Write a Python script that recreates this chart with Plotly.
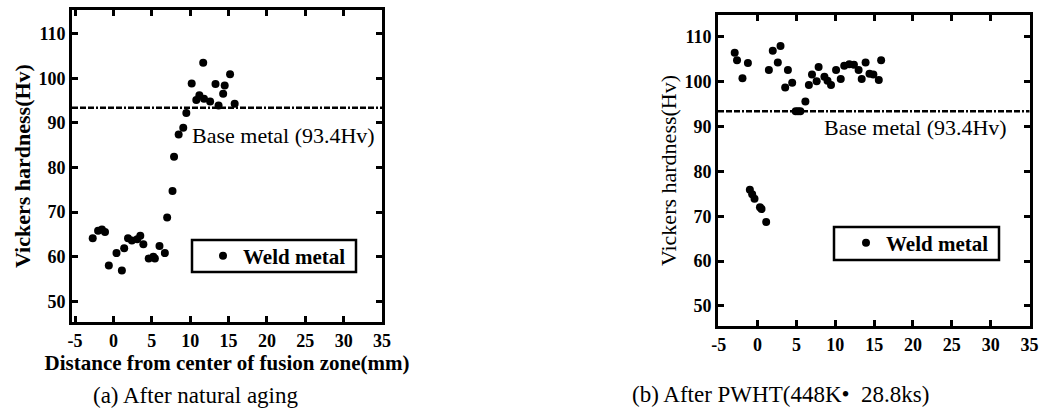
import plotly.graph_objects as go

# ---- data ----
dist_a = [-2.7, -2.0, -1.5, -1.1, -0.6, 0.4, 1.1, 1.4, 1.9, 2.4, 3.1, 3.5, 3.9, 4.6, 5.2, 5.4,
          6.0, 6.7, 7.0, 7.7, 7.9, 8.5, 9.1, 9.5, 10.2, 10.8, 11.2, 11.7, 11.8, 12.6, 13.3,
          13.7, 14.3, 14.5, 15.2, 15.8]
hv_a = [64.1, 65.8, 66.1, 65.5, 58.0, 60.8, 56.9, 61.9, 64.1, 63.6, 63.9, 64.7, 62.8, 59.6, 60.0, 59.6,
        62.4, 60.8, 68.8, 74.7, 82.4, 87.4, 88.9, 92.2, 98.8, 95.1, 96.2, 103.5, 95.4, 94.8, 98.7,
        93.9, 96.5, 98.4, 100.9, 94.3]

dist_b = [-2.95, -2.65, -1.95, -1.25, -1.0, -0.7, -0.4, 0.3, 0.5, 1.1, 1.45, 1.95, 2.6, 2.95,
          3.55, 3.9, 4.45, 4.9, 5.2, 5.5, 6.15, 6.6, 7.0, 7.6, 7.85, 8.6, 9.0, 9.45, 10.1, 10.7,
          11.15, 11.8, 12.4, 13.0, 13.4, 13.9, 14.4, 14.9, 15.6, 15.9]
hv_b = [106.5, 104.8, 100.8, 104.2, 75.9, 74.9, 73.9, 72.0, 71.6, 68.7, 102.6, 106.9, 104.3, 108.0,
        98.7, 102.6, 99.8, 93.4, 93.4, 93.4, 95.6, 99.3, 101.6, 100.1, 103.3, 101.1, 100.2, 99.3, 102.6, 100.6,
        103.6, 103.9, 103.8, 102.6, 100.6, 104.3, 101.8, 101.6, 100.4, 104.8]

base_metal = 93.4
x_ticks = [-5, 0, 5, 10, 15, 20, 25, 30, 35]
x_tick_labels = ["-5", "0", "5", "10", "15", "20", "25", "30", "35"]
y_ticks = [50, 60, 70, 80, 90, 100, 110]
y_tick_labels = ["50", "60", "70", "80", "90", "100", "110"]
series_name = "Weld metal"
y_title = "Vickers hardness(Hv)"
x_title = "Distance from center of fusion zone(mm)"
base_label = "Base metal (93.4Hv)"
caption_a = "(a) After natural aging"
caption_b = "(b) After PWHT(448K\u2022  28.8ks)"

W, H = 1042, 410
SERIF = "Liberation Serif"

def px_x(p):
    return p / W

def px_y(p):
    return (H - p) / H

fig = go.Figure()

fig.add_trace(go.Scatter(x=dist_a, y=hv_a, mode="markers", name=series_name,
                         marker=dict(color="black", size=8),
                         xaxis="x", yaxis="y", legend="legend"))
fig.add_trace(go.Scatter(x=dist_b, y=hv_b, mode="markers", name=series_name,
                         marker=dict(color="black", size=8),
                         xaxis="x2", yaxis="y2", legend="legend2"))

axis_common = dict(
    showline=True, linecolor="black", linewidth=3, mirror="ticks",
    ticks="inside", ticklen=6, tickwidth=2.5, tickcolor="black",
    showgrid=False, zeroline=False, automargin=False,
    tickfont=dict(family=SERIF, size=18, color="black", weight="bold"),
)
x_tick_cfg = dict(tickmode="array", tickvals=x_ticks, ticktext=x_tick_labels)
y_tick_cfg = dict(tickmode="array", tickvals=y_ticks, ticktext=y_tick_labels)

legend_common = dict(xanchor="left", yanchor="middle", borderwidth=0,
                     bgcolor="rgba(0,0,0,0)",
                     font=dict(family=SERIF, size=21, color="black", weight="bold"))

fig.update_layout(
    width=W, height=H,
    margin=dict(l=0, r=0, t=0, b=0, autoexpand=False),
    paper_bgcolor="white", plot_bgcolor="white",
    showlegend=True,
    xaxis=dict(domain=[px_x(72), px_x(382)], range=[-5.4, 35], anchor="y",
               title=dict(text=x_title, standoff=2,
                          font=dict(family=SERIF, size=21, color="black", weight="bold")),
               **x_tick_cfg, **axis_common),
    yaxis=dict(domain=[px_y(322), px_y(10)], range=[45.35, 115.3], anchor="x",
               title=dict(text=y_title, standoff=2,
                          font=dict(family=SERIF, size=22, color="black", weight="bold")),
               **y_tick_cfg, **axis_common),
    xaxis2=dict(domain=[px_x(718), px_x(1029.5)], range=[-5.1, 35], anchor="y2",
                **x_tick_cfg, **axis_common),
    yaxis2=dict(domain=[px_y(326), px_y(15)], range=[45.5, 114.9], anchor="x2",
                title=dict(text=y_title, standoff=2,
                           font=dict(family=SERIF, size=22, color="black")),
                **y_tick_cfg, **axis_common),
    legend=dict(x=px_x(203), y=px_y(256), **legend_common),
    legend2=dict(x=px_x(846), y=px_y(243), **legend_common),
)

# legend frames
fig.add_shape(type="rect", xref="paper", yref="paper",
              x0=px_x(192), x1=px_x(356), y0=px_y(272), y1=px_y(240),
              line=dict(color="black", width=2.5), fillcolor="white", layer="below")
fig.add_shape(type="rect", xref="paper", yref="paper",
              x0=px_x(834), x1=px_x(999), y0=px_y(260), y1=px_y(227),
              line=dict(color="black", width=2.5), fillcolor="white", layer="below")

dash_style = dict(color="black", width=2.5, dash="6px,2px,6px,2px,6px,2px,2px,2px")
fig.add_shape(type="line", xref="x domain", yref="y", x0=0, x1=1, y0=base_metal, y1=base_metal,
              line=dash_style, layer="below")
fig.add_shape(type="line", xref="x2 domain", yref="y2", x0=0, x1=1, y0=base_metal, y1=base_metal,
              line=dash_style, layer="below")

fig.add_annotation(x=10.0, y=87.1, xref="x", yref="y", text=base_label, showarrow=False,
                   xanchor="left", yanchor="middle",
                   font=dict(family=SERIF, size=22, color="black"))
fig.add_annotation(x=8.3, y=89.9, xref="x2", yref="y2", text=base_label, showarrow=False,
                   xanchor="left", yanchor="middle",
                   font=dict(family=SERIF, size=22, color="black"))

fig.add_annotation(x=px_x(195), y=px_y(395), xref="paper", yref="paper", text=caption_a,
                   showarrow=False, xanchor="center", yanchor="middle",
                   font=dict(family=SERIF, size=23, color="black"))
fig.add_annotation(x=px_x(780), y=px_y(394), xref="paper", yref="paper", text=caption_b,
                   showarrow=False, xanchor="center", yanchor="middle",
                   font=dict(family=SERIF, size=23, color="black"))

fig.write_html("out.html")
